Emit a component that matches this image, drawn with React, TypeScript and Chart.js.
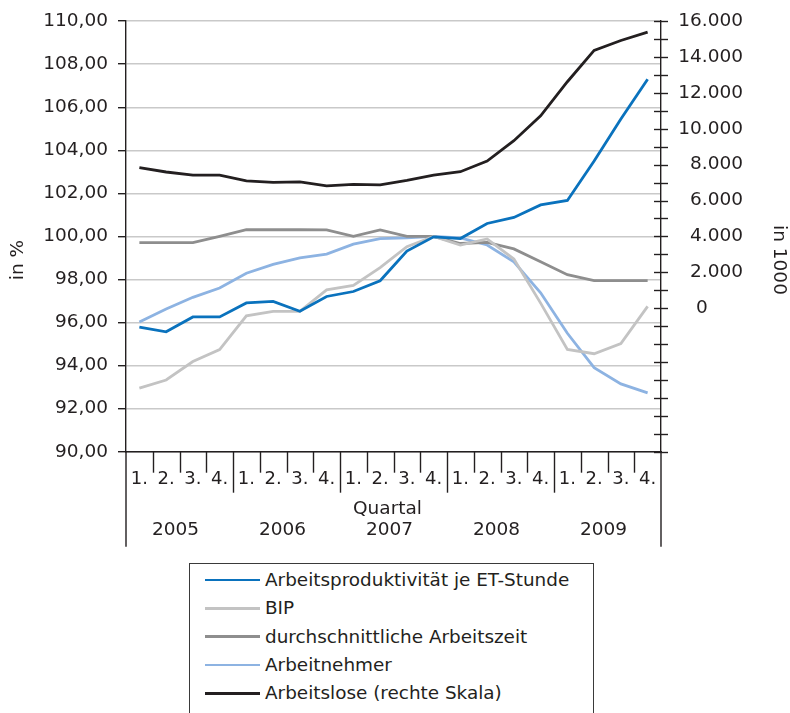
import React, { useEffect, useRef } from "react";
import { Chart, registerables } from "chart.js";

Chart.register(...registerables);

const quarterLabels = [
  "1.", "2.", "3.", "4.",
  "1.", "2.", "3.", "4.",
  "1.", "2.", "3.", "4.",
  "1.", "2.", "3.", "4.",
  "1.", "2.", "3.", "4.",
];
const years = ["2005", "2006", "2007", "2008", "2009"];

const productivity = [95.79, 95.57, 96.26, 96.26, 96.91, 96.98, 96.52, 97.21, 97.44, 97.94, 99.32, 99.98, 99.9, 100.6, 100.88, 101.46, 101.67, 103.5, 105.45, 107.3];
const bip = [92.95, 93.33, 94.19, 94.74, 96.31, 96.52, 96.52, 97.52, 97.72, 98.55, 99.52, 100.0, 99.6, 99.88, 98.95, 96.9, 94.75, 94.55, 95.02, 96.75];
const workingTime = [99.71, 99.71, 99.71, 100.0, 100.31, 100.31, 100.31, 100.3, 100.0, 100.3, 100.0, 100.0, 99.67, 99.72, 99.42, 98.82, 98.22, 97.95, 97.95, 97.95];
const employees = [96.02, 96.63, 97.17, 97.6, 98.29, 98.7, 99.0, 99.18, 99.64, 99.9, 99.93, 100.0, 99.93, 99.6, 98.82, 97.38, 95.5, 93.9, 93.15, 92.73];
const unemployed = [7830, 7590, 7420, 7420, 7090, 7015, 7040, 6815, 6905, 6870, 7125, 7420, 7605, 8200, 9335, 10720, 12620, 14370, 14920, 15385];

const seriesNames = [
  "Arbeitsproduktivität je ET-Stunde",
  "BIP",
  "durchschnittliche Arbeitszeit",
  "Arbeitnehmer",
  "Arbeitslose (rechte Skala)",
];
const seriesColors = ["#0a72bd", "#c3c3c3", "#8e8e8e", "#8db3e2", "#231f20"];

const FONT = "'DejaVu Sans', sans-serif";
const TEXT = "#231f20";
const AXIS = "#231f20";

const W = 790;
const H = 560;

const fmtLeft = (v: number) => v.toFixed(2).replace(".", ",");
const fmtRight = (v: number) => {
  if (v < 0) return "";
  if (v === 0) return "0\u2007\u2007\u2007";
  const s = String(Math.round(v));
  return s.replace(/\B(?=(\d{3})+(?!\d))/g, ".");
};

const decorPlugin = {
  id: "decor",
  afterDraw(chart: any) {
    const ctx = chart.ctx as CanvasRenderingContext2D;
    const area = chart.chartArea;
    const y1 = chart.scales.y1;
    ctx.save();
    ctx.strokeStyle = AXIS;
    ctx.lineWidth = 1.4;
    // right axis crossing ticks every 1000
    for (let v = -8000; v <= 16000; v += 1000) {
      const py = Math.round(y1.getPixelForValue(v)) + 0.5;
      ctx.beginPath();
      ctx.moveTo(area.right - 7, py);
      ctx.lineTo(area.right + 7, py);
      ctx.stroke();
    }
    // separators below x axis
    const n = quarterLabels.length;
    const step = (area.right - area.left) / n;
    for (let k = 1; k < n; k++) {
      const px = Math.round(area.left + k * step) + 0.5;
      const len = k % 4 === 0 ? 41 : 21;
      ctx.beginPath();
      ctx.moveTo(px, area.bottom);
      ctx.lineTo(px, area.bottom + len);
      ctx.stroke();
    }
    // axis extensions downwards
    ctx.beginPath();
    ctx.moveTo(area.left, area.bottom);
    ctx.lineTo(area.left, area.bottom + 95);
    ctx.moveTo(area.right, area.bottom);
    ctx.lineTo(area.right, area.bottom + 95);
    ctx.stroke();

    ctx.fillStyle = TEXT;
    ctx.textBaseline = "middle";
    ctx.textAlign = "center";
    ctx.font = `18.5px ${FONT}`;
    ctx.fillText("Quartal", (area.left + area.right) / 2 - 6, area.bottom + 57);
    years.forEach((yr, i) => {
      const cx = area.left + (i * 4 + 2) * step - 4;
      ctx.fillText(yr, cx, area.bottom + 78);
    });
    // axis titles
    ctx.save();
    ctx.translate(18, 260);
    ctx.rotate(-Math.PI / 2);
    ctx.fillText("in %", 0, 0);
    ctx.restore();
    ctx.save();
    ctx.translate(779, 260);
    ctx.rotate(Math.PI / 2);
    ctx.fillText("in 1000", 0, 0);
    ctx.restore();
    ctx.restore();
  },
};

function ChartCanvas() {
  const ref = useRef<HTMLCanvasElement | null>(null);
  useEffect(() => {
    if (!ref.current) return;
    const allData = [productivity, bip, workingTime, employees, unemployed];
    const chart = new Chart(ref.current, {
      type: "line",
      data: {
        labels: quarterLabels,
        datasets: allData.map((d, i) => ({
          label: seriesNames[i],
          data: d,
          borderColor: seriesColors[i],
          backgroundColor: seriesColors[i],
          borderWidth: 2.8,
          pointRadius: 0,
          tension: 0,
          yAxisID: i === 4 ? "y1" : "y",
        })),
      },
      options: {
        responsive: false,
        animation: false,
        devicePixelRatio: 1,
        layout: { padding: { left: 0, top: 17.3, right: 47, bottom: 0 } },
        plugins: {
          legend: { display: false },
          tooltip: { enabled: false },
        },
        scales: {
          x: {
            type: "category",
            offset: true,
            grid: { display: false },
            border: { display: true, color: AXIS, width: 1.4 },
            ticks: {
              color: TEXT,
              font: { family: FONT, size: 18 },
              padding: 9,
              maxRotation: 0,
              autoSkip: false,
            },
            afterFit: (s: any) => {
              s.height = H - 451.7;
            },
          },
          y: {
            position: "left",
            min: 90,
            max: 110,
            ticks: {
              stepSize: 2,
              color: TEXT,
              font: { family: FONT, size: 18.5 },
              padding: 10,
              callback: (v: any) => fmtLeft(Number(v)),
            },
            grid: {
              color: "#c9c9c9",
              lineWidth: 1.4,
              tickColor: AXIS,
              tickLength: 8,
              tickWidth: 1.4,
            },
            border: { display: true, color: AXIS, width: 1.4 },
            afterFit: (s: any) => {
              s.width = 126;
            },
          },
          y1: {
            position: "right",
            min: -8000,
            max: 16000,
            ticks: {
              stepSize: 2000,
              color: TEXT,
              font: { family: FONT, size: 18.5 },
              crossAlign: "far",
              autoSkip: false,
              callback: (v: any) => fmtRight(Number(v)),
            },
            grid: { drawOnChartArea: false, drawTicks: false },
            border: { display: true, color: AXIS, width: 1.4 },
            afterFit: (s: any) => {
              s.width = 82;
            },
          },
        },
      },
      plugins: [decorPlugin],
    });
    return () => chart.destroy();
  }, []);
  return <canvas ref={ref} width={W} height={H} style={{ display: "block", width: W, height: H }} />;
}

export default function App() {
  const rowTop = 580;
  const rowStep = 28.3;
  return (
    <div
      style={{
        position: "absolute",
        left: 0,
        top: 0,
        width: 790,
        height: 713,
        overflow: "hidden",
        background: "#fff",
        fontFamily: FONT,
      }}
    >
      <ChartCanvas />
      <div
        style={{
          position: "absolute",
          left: 189,
          top: 563,
          width: 405,
          height: 170,
          border: "1.5px solid #3a3a3a",
          boxSizing: "border-box",
        }}
      />
      {seriesNames.map((name, i) => (
        <React.Fragment key={name}>
          <div
            style={{
              position: "absolute",
              left: 205,
              top: rowTop + i * rowStep - 1.4,
              width: 55,
              height: 2.8,
              background: seriesColors[i],
            }}
          />
          <div
            style={{
              position: "absolute",
              left: 265,
              top: rowTop + i * rowStep - 12,
              height: 24,
              lineHeight: "24px",
              fontSize: 18.4,
              color: TEXT,
              whiteSpace: "nowrap",
            }}
          >
            {name}
          </div>
        </React.Fragment>
      ))}
    </div>
  );
}
